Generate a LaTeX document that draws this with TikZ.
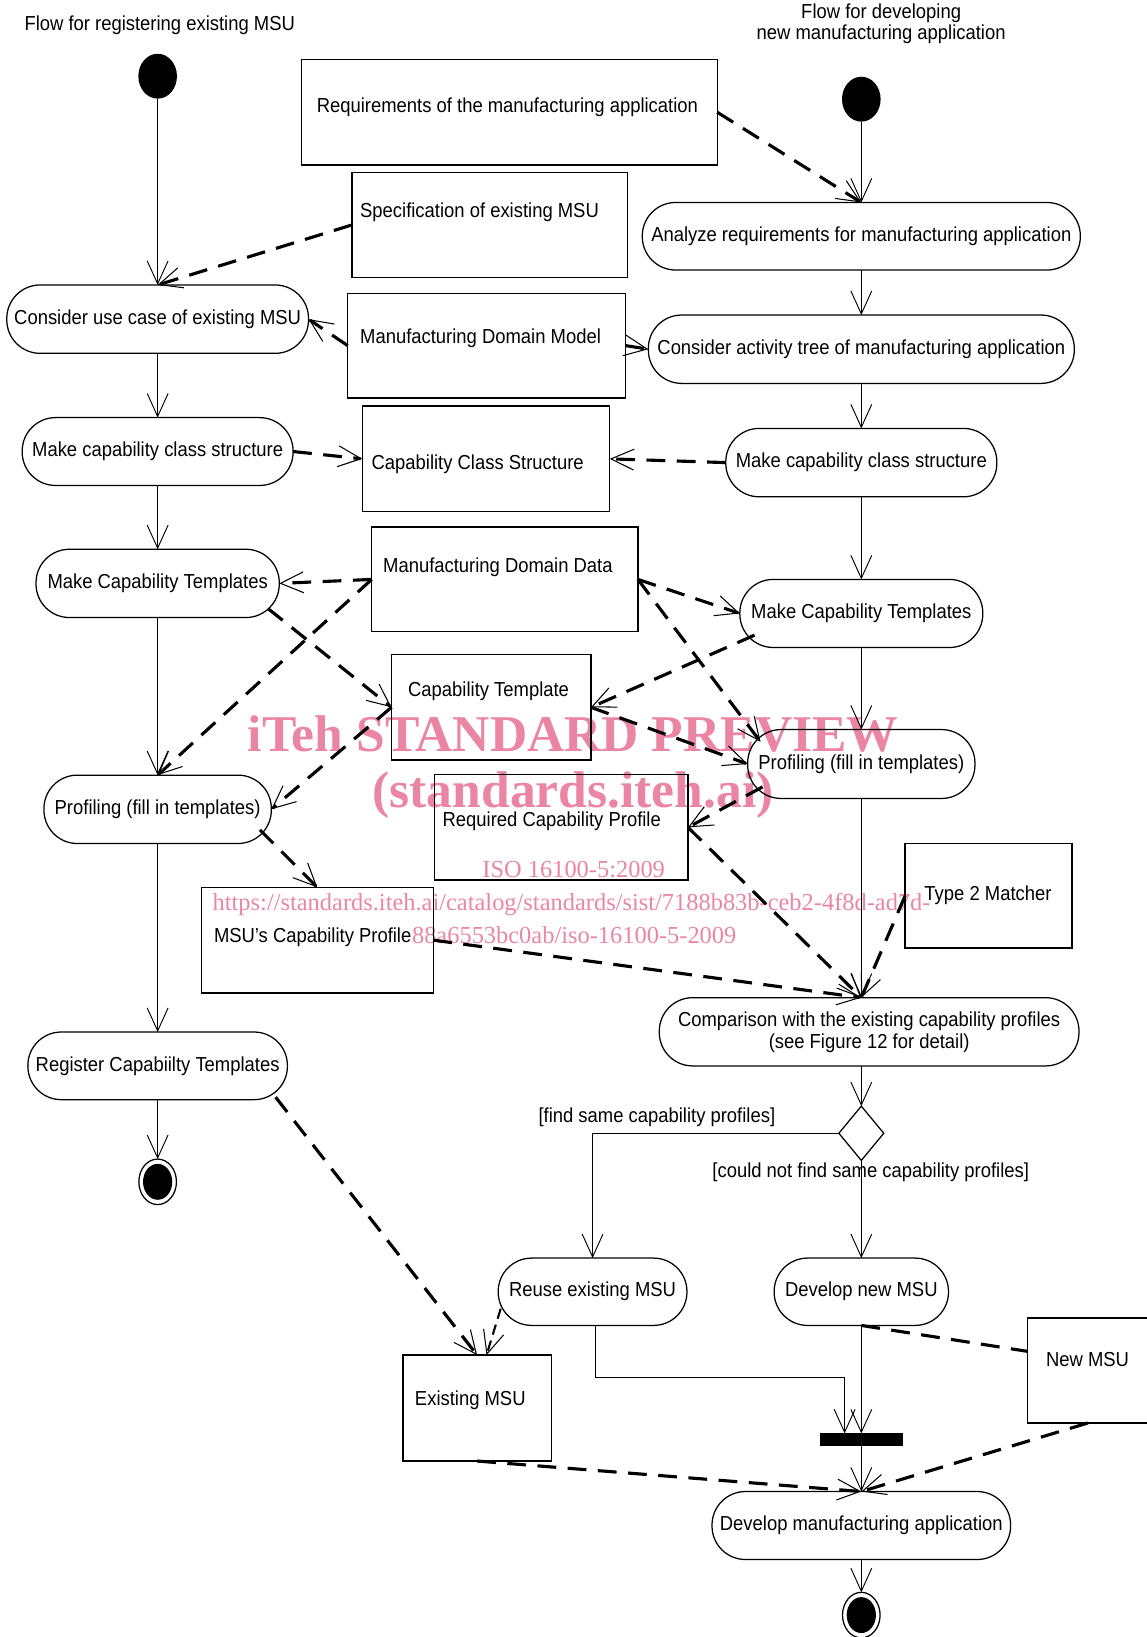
\documentclass[tikz,border=0pt]{standalone}
\usepackage{fontspec}
\setmainfont{Liberation Sans}[FakeStretch=0.91]
\newfontfamily\wmserif{Liberation Serif}
\usetikzlibrary{arrows.meta,shapes.geometric}
\definecolor{wmpink}{RGB}{234,134,164}
\begin{document}
\begin{tikzpicture}[x=0.5pt,y=-0.5pt,
  every node/.style={font=\fontsize{9.7}{10.5}\selectfont, inner sep=0pt, outer sep=0pt},
  act/.style={draw, rounded corners=16pt, line width=0.6pt, align=center},
  objbox/.style={draw, line width=0.7pt},
  init/.style={ellipse, fill=black, minimum width=18.5pt, minimum height=21.5pt},
  final/.style={ellipse, draw, line width=0.6pt, minimum width=18pt, minimum height=21.8pt},
  flow/.style={line width=0.45pt, -{Straight Barb[length=11pt,width=10pt]}},
  oflow/.style={line width=1.5pt, dash pattern=on 9pt off 5.5pt,
    -{Straight Barb[length=11pt,width=10pt,line width=0.5pt]}},
  wmbig/.style={font=\wmserif\bfseries\fontsize{24.7}{26}\selectfont, text=wmpink},
  wmsmall/.style={font=\wmserif\fontsize{11.7}{13}\selectfont, text=wmpink}]
\useasboundingbox (0,0) rectangle (1098,1568);

% watermark lettering (behind the diagram)
\node[wmbig] (wm1) at (549,703) {iTeh STANDARD PREVIEW};
\node[wmbig] (wm2) at (549,762) {(standards.iteh.ai)};
\node[wmsmall] (wm3) at (549.5,835) {\underline{ISO 16100-5:2009}};
\node[wmsmall] (wm4) at (547.5,866) {https://standards.iteh.ai/catalog/standards/sist/7188b83b-ceb2-4f8d-ad7d-};
\node[wmsmall] (wm5) at (550,896) {88a6553bc0ab/iso-16100-5-2009};

% lane titles
\node (t1) at (153,24) {Flow for registering existing MSU};
\node[align=center, font=\fontsize{9.7}{9}\selectfont] (t2) at (844,23) {Flow for developing\\new manufacturing application};

% start / end points
\node[init] (i1) at (151,73) {};
\node[init] (i2) at (825,95) {};
\node[final] (f1) at (151,1132) {};
\fill (f1.center) ellipse [x radius=7pt, y radius=8.6pt];
\node[final] (f2) at (825,1547) {};
\fill (f2.center) ellipse [x radius=7pt, y radius=8.6pt];

% left lane activities
\node[act, minimum width=144.5pt, minimum height=32.75pt] (A) at (151,305.7) {Consider use case of existing MSU};
\node[act, minimum width=129.75pt, minimum height=32.5pt] (B) at (151,432.5) {Make capability class structure};
\node[act, minimum width=116.5pt, minimum height=32.7pt] (C) at (151,558.8) {Make Capability Templates};
\node[act, minimum width=108.9pt, minimum height=32.75pt] (D) at (151,775.2) {Profiling (fill in templates)};
\node[act, minimum width=124.3pt, minimum height=32.4pt] (E) at (151,1020.9) {Register Capabiilty Templates};

% right lane activities
\node[act, minimum width=209.8pt, minimum height=32.35pt] (G) at (825,226.3) {Analyze requirements for manufacturing application};
\node[act, minimum width=204pt, minimum height=32.75pt] (H) at (825,334.5) {Consider activity tree of manufacturing application};
\node[act, minimum width=129.8pt, minimum height=32.75pt] (I) at (825,443.1) {Make capability class structure};
\node[act, minimum width=116.35pt, minimum height=32.6pt] (J) at (825,587.6) {Make Capability Templates};
\node[act, minimum width=108.85pt, minimum height=33pt] (K) at (825,731.8) {Profiling (fill in templates)};
\node[act, minimum width=201pt, minimum height=32.7pt] (L) at (832.5,988.3) {Comparison with the existing capability profiles\\(see Figure 12 for detail)};
\node[diamond, draw, line width=0.6pt, minimum width=21.5pt, minimum height=26pt] (dia) at (825,1085.5) {};
\node[act, minimum width=90.4pt, minimum height=32.25pt] (N) at (567.6,1237.3) {Reuse existing MSU};
\node[act, minimum width=83.5pt, minimum height=32.25pt] (O) at (825,1237.3) {Develop new MSU};
\node[fill=black, minimum width=39.5pt, minimum height=6pt] (bar) at (825,1379) {};
\node[act, minimum width=143pt, minimum height=32.55pt] (Q) at (825,1461.2) {Develop manufacturing application};

% object boxes
\node[objbox, minimum width=199pt, minimum height=50.5pt] (req) at (488,107.5) {};
\node (reqt) at (486,103) {Requirements of the manufacturing application};
\node[objbox, minimum width=132pt, minimum height=50.5pt] (spec) at (469,215.5) {};
\node[anchor=west] (spect) at (345,203) {Specification of existing MSU};
\node[objbox, minimum width=133pt, minimum height=50pt] (mdm) at (466,331) {};
\node[anchor=west] (mdmt) at (345,324) {Manufacturing Domain Model};
\node[objbox, minimum width=118.5pt, minimum height=50.5pt] (ccs) at (465.5,439.5) {};
\node[anchor=west] (ccst) at (356,445) {Capability Class Structure};
\node[objbox, minimum width=127.5pt, minimum height=50pt] (mdd) at (483.5,555) {};
\node[anchor=west] (mddt) at (367,543) {Manufacturing Domain Data};
\node[objbox, minimum width=95.5pt, minimum height=50.5pt] (ct) at (470.5,677.5) {};
\node (ctt) at (468,662) {Capability Template};
\node[objbox, minimum width=121.5pt, minimum height=50.5pt] (rcp) at (537.5,792.5) {};
\node[anchor=west] (rcpt) at (424,787) {Required Capability Profile};
\node[objbox, minimum width=111pt, minimum height=50.5pt] (msucp) at (304,900.5) {};
\node[anchor=west] (msucpt) at (205,898) {MSU’s Capability Profile};
\node[objbox, minimum width=80pt, minimum height=50pt] (t2m) at (947,858) {};
\node[anchor=west] (t2mt) at (885.5,857.5) {Type 2 Matcher};
\node[objbox, minimum width=71pt, minimum height=50.75pt] (exmsu) at (457,1348.7) {};
\node[anchor=west] (exmsut) at (397.5,1341) {Existing MSU};
\node[objbox, minimum width=58pt, minimum height=50.25pt] (newmsu) at (1042,1312.75) {};
\node[anchor=west] (newmsut) at (1002,1302) {New MSU};

% guards
\node[anchor=east] (gfind) at (742.5,1070) {[find same capability profiles]};
\node (gnot) at (834,1122.6) {[could not find same capability profiles]};

% control flow
\draw[flow] (i1) -- (A);
\draw[flow] (A) -- (B);
\draw[flow] (B) -- (C);
\draw[flow] (C) -- (D);
\draw[flow] (D) -- (E);
\draw[flow] (E) -- (f1);
\draw[flow] (i2) -- (G);
\draw[flow] (G) -- (H);
\draw[flow] (H) -- (I);
\draw[flow] (I) -- (J);
\draw[flow] (J) -- (K);
\draw[flow] (K.south) -- (K.south |- L.north);
\draw[flow] (K.south |- L.south) -- (dia.north);
\draw[flow] (dia.west) -| (N.north);
\draw[flow] (dia.south) -- (O.north);
\draw[flow] ([shift={(3,0)}]N.south) |- ([shift={(-16,-54)}]bar.north) -- ([shift={(-16,0)}]bar.north);
\draw[flow] (O.south) -- (bar.north);
\draw[flow] (bar.south) -- (Q.north);
\draw[flow] (Q.south) -- (f2.north);

% object flow
\draw[oflow] (req.east) -- (G.north);
\draw[oflow] (spec.west) -- (A.north);
\draw[oflow] (mdm.west) -- (A.east);
\draw[oflow] (mdm.east) -- (H.west);
\draw[oflow] (B.east) -- (ccs.west);
\draw[oflow] (I.west) -- (ccs.east);
\draw[oflow] (mdd.west) -- (C.east);
\draw[oflow] (mdd.west) -- (D.north);
\draw[oflow] (mdd.east) -- (J.west);
\draw[oflow] (mdd.east) -- ([shift={(-96.5,-21.2)}]K.center);
\draw[oflow] ([shift={(105.7,24.1)}]C.center) -- (ct.west);
\draw[oflow] (ct.west) -- (D.east);
\draw[oflow] ([shift={(-102.3,20.8)}]J.center) -- (ct.east);
\draw[oflow] (ct.east) -- (K.west);
\draw[oflow] ([shift={(-94.6,21.9)}]K.center) -- (rcp.east);
\draw[oflow] ([shift={(98,19.8)}]D.center) -- (msucp.north);
\draw[oflow] (rcp.east) -- (K.south |- L.north);
\draw[oflow] (msucp.east) -- (K.south |- L.north);
\draw[oflow] (t2m.west) -- (K.south |- L.north);
\draw[oflow] ([shift={(113,30)}]E.center) -- (exmsu.north);
\draw[oflow, line width=1pt, dash pattern=on 5pt off 3pt] ([shift={(-88,16.2)}]N.center) -- ([shift={(9,0)}]exmsu.north);
\draw[oflow] (exmsu.south) -- (Q.north);
\draw[oflow] (newmsu.south) -- (Q.north);
\draw[line width=1.5pt, dash pattern=on 9pt off 5.5pt] (O.south) -- ([shift={(0,-18.4)}]newmsu.west);
\end{tikzpicture}
\end{document}
